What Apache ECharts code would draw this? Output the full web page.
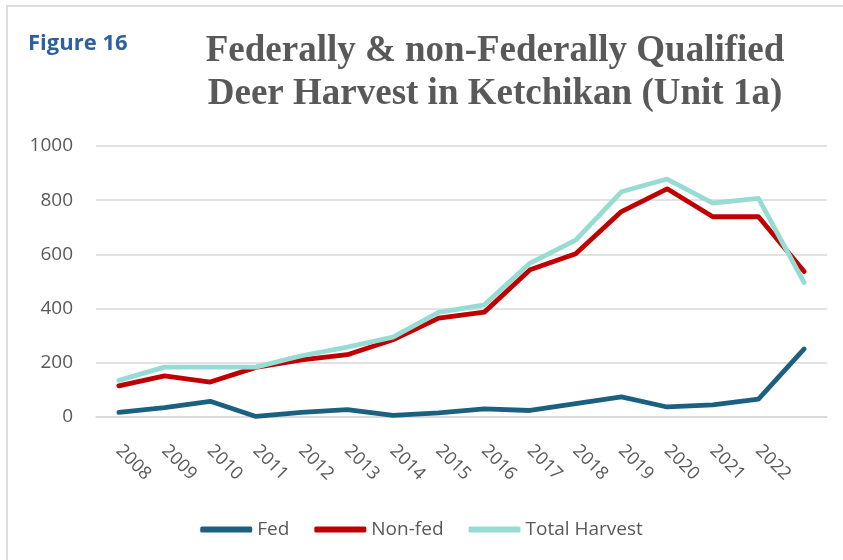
<!DOCTYPE html>
<html>
<head>
<meta charset="utf-8">
<script src="https://cdn.jsdelivr.net/npm/echarts@6/dist/echarts.min.js"></script>
<style>
  html, body { margin: 0; padding: 0; background: #ffffff; }
  #chart { width: 843px; height: 560px; }
</style>
</head>
<body>
<div id="chart"></div>
<script>
// Harvest years (the final season carries no axis label)
const years = ['2008', '2009', '2010', '2011', '2012', '2013', '2014', '2015',
               '2016', '2017', '2018', '2019', '2020', '2021', '2022', ''];

// Deer harvested by federally qualified users
const fed = [17, 35, 58, 2, 17, 27, 6, 15, 30, 24, 49, 74, 37, 45, 66, 251];

// Deer harvested by non-federally qualified users
const nonFed = [115, 152, 129, 183, 211, 230, 285, 365, 387, 543, 602, 758, 842, 739, 739, 537];

// Total reported harvest
const total = [135, 184, 184, 184, 226, 258, 295, 386, 414, 568, 653, 831, 878, 789, 807, 496];

// Value axis ticks
const yMin = 0, yMax = 1000, yStep = 200;

const textGray = '#595959';
const gridGray = '#d9d9d9';
const sans = '"Open Sans", "Noto Sans", sans-serif';

const chart = echarts.init(document.getElementById('chart'));

function lineSeries(name, data, color) {
  return {
    name: name,
    type: 'line',
    data: data,
    symbol: 'none',
    smooth: false,
    lineStyle: { color: color, width: 4.8, cap: 'round', join: 'round' },
    itemStyle: { color: color },
    emphasis: { disabled: true }
  };
}

chart.setOption({
  animation: false,
  backgroundColor: '#ffffff',
  title: {
    text: 'Federally & non-Federally Qualified\nDeer Harvest in Ketchikan (Unit 1a)',
    left: 490,
    top: 25,
    textAlign: 'center',
    textStyle: {
      fontFamily: '"Liberation Serif", "DejaVu Serif", serif',
      fontWeight: 'bold',
      fontSize: 37,
      lineHeight: 43,
      color: textGray
    }
  },
  graphic: [
    // frame edges
    { type: 'rect', shape: { x: 6, y: 5, width: 850, height: 2 }, style: { fill: '#dcdcdc' }, silent: true },
    { type: 'rect', shape: { x: 6, y: 5, width: 2, height: 570 }, style: { fill: '#dcdcdc' }, silent: true },
    {
      type: 'text',
      left: 28,
      top: 33,
      style: {
        text: 'Figure 16',
        fontFamily: sans,
        fontWeight: 'bold',
        fontSize: 22,
        fill: '#2c609e'
      }
    }
  ],
  legend: {
    bottom: 16,
    left: 'center',
    itemWidth: 52,
    itemHeight: 6,
    itemGap: 25,
    icon: 'roundRect',
    textStyle: { fontFamily: sans, fontSize: 19, color: textGray },
    data: ['Fed', 'Non-fed', 'Total Harvest']
  },
  grid: { left: 96, right: 16, top: 146, bottom: 143 },
  xAxis: {
    type: 'category',
    data: years,
    boundaryGap: true,
    axisLine: { show: true, lineStyle: { color: gridGray, width: 1.5 } },
    axisTick: { show: false },
    axisLabel: {
      rotate: -45,
      margin: 31,
      interval: 0,
      fontFamily: sans,
      fontSize: 18,
      color: textGray
    }
  },
  yAxis: {
    type: 'value',
    min: yMin,
    max: yMax,
    interval: yStep,
    axisLine: { show: false },
    axisTick: { show: false },
    axisLabel: {
      margin: 23,
      fontFamily: sans,
      fontSize: 19,
      color: textGray,
      formatter: function (v) { return String(v); }
    },
    splitLine: { lineStyle: { color: gridGray, width: 1.5 } }
  },
  series: [
    lineSeries('Fed', fed, '#1c6081'),
    lineSeries('Non-fed', nonFed, '#c00000'),
    lineSeries('Total Harvest', total, '#96dcd3')
  ]
});
</script>
</body>
</html>
